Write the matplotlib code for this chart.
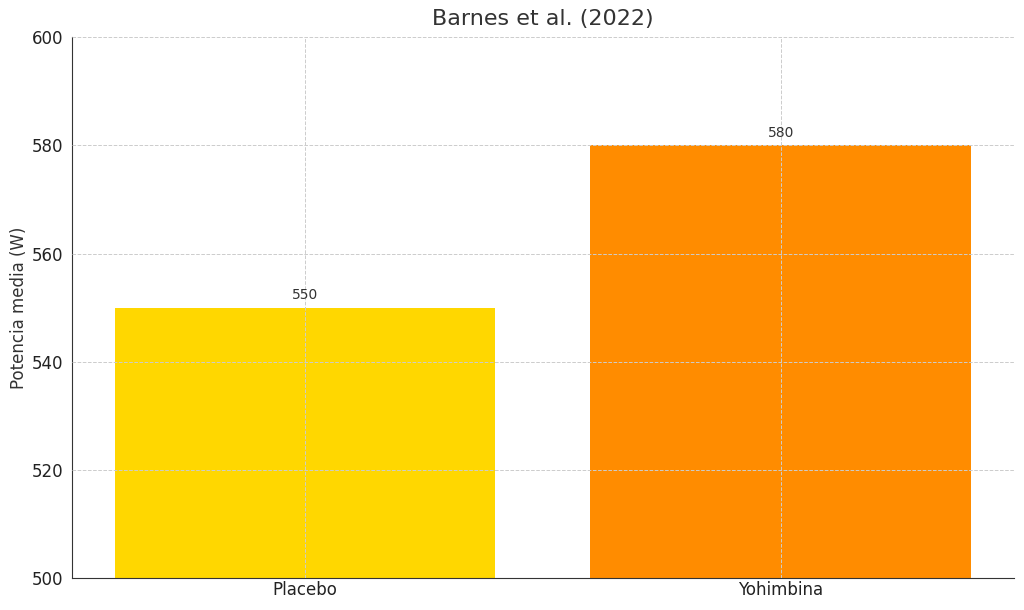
import matplotlib.pyplot as plt

groups = ["Placebo", "Yohimbina"]
power = [550, 580]
colors = ["#FFD700", "#FF8C00"]

plt.rcParams['font.family'] = ['DejaVu Sans']
txt = "#333333"

fig, ax = plt.subplots(figsize=(10.24, 6.1), dpi=100)
fig.subplots_adjust(left=0.0703, right=0.990, top=0.939, bottom=0.052)

bars = ax.bar(groups, power, color=colors, width=0.8)
for b, v in zip(bars, power):
    ax.text(b.get_x() + b.get_width() / 2, v + 1.0, str(v),
            ha="center", va="bottom", fontsize=10, color=txt)

ax.set_ylim(500, 600)
ax.set_title("Barnes et al. (2022)", fontsize=16, color=txt, pad=9)
ax.set_ylabel("Potencia media (W)", fontsize=12, color=txt, labelpad=3)
ax.tick_params(axis="x", labelsize=12, colors="#222222", length=0, pad=2)
ax.tick_params(axis="y", labelsize=12, colors="#222222", length=0, pad=6)
ax.grid(True, linestyle="--", color="#cccccc", linewidth=0.7)
ax.set_axisbelow(False)
for s in ["top", "right"]:
    ax.spines[s].set_visible(False)
ax.spines["left"].set_color(txt)
ax.spines["bottom"].set_color(txt)

plt.savefig("out.png", dpi=100)
